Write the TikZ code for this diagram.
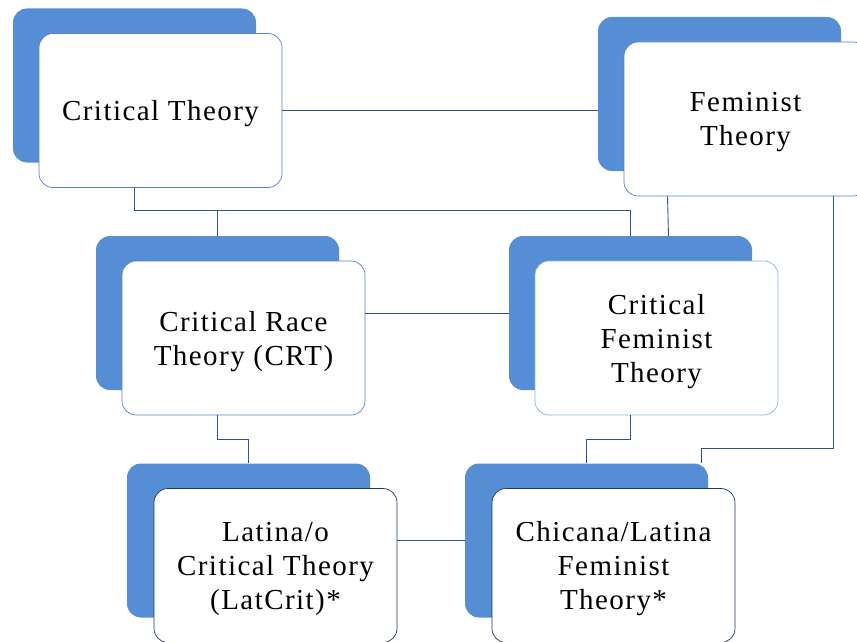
\documentclass[tikz,border=0pt]{standalone}
\usepackage{fontspec}
\setmainfont[LetterSpace=5]{Liberation Serif}
\usetikzlibrary{positioning}

\definecolor{backblue}{RGB}{85,142,213}
\definecolor{rimblue}{RGB}{84,130,205}
\definecolor{paleblue}{RGB}{141,179,226}
\definecolor{navy}{RGB}{31,56,100}
\definecolor{linkblue}{RGB}{47,82,143}

\tikzset{
  back/.style={fill=backblue, rounded corners=14pt, minimum width=243pt,
    minimum height=154pt, inner sep=0pt},
  front/.style={fill=white, draw=rimblue, line width=.7pt, rounded corners=14pt,
    minimum width=243pt, minimum height=154pt, inner sep=0pt, align=center,
    text depth=0pt, font=\fontsize{29}{34}\selectfont},
  link/.style={draw=linkblue, line width=.9pt}
}

\begin{document}
\begin{tikzpicture}[x=1pt,y=-1pt]
   \useasboundingbox (0,0) rectangle (857,642);
   % Critical Theory
   \node[back] (ct-b) at (134.5,85.5) {};
   \node[front] (ct) at ([shift={(26,25)}]ct-b) {Critical Theory};
   % Feminist Theory
   \node[back] (ft-b) at (719.5,94) {};
   \node[front] (ft) at ([shift={(26,25)}]ft-b) {Feminist\\Theory};
   % CRT
   \node[back] (crt-b) at (217.5,313) {};
   \node[front] (crt) at ([shift={(26,25)}]crt-b) {Critical Race\\Theory (CRT)};
   % Critical Feminist Theory
   \node[back] (cft-b) at (630.5,313) {};
   \node[front, draw=paleblue] (cft) at ([shift={(26,25)}]cft-b) {Critical\\Feminist\\Theory};
   % LatCrit
   \node[back] (lat-b) at (248.5,540.5) {};
   \node[front, draw=navy] (lat) at ([shift={(27,25)}]lat-b) {Latina/o\\Critical Theory\\(LatCrit)*};
   % Chicana/Latina
   \node[back] (chi-b) at (586.5,540.5) {};
   \node[front, draw=navy] (chi) at ([shift={(27,25)}]chi-b) {Chicana/Latina\\Feminist\\Theory*};

   % links
   \draw[link] (ct.east) -- (ct.east -| ft-b.west);
   \draw[link] (ct.south -| ct-b) -- ++(0,23) -| (cft-b.north);
   \draw[link] (ct.south -| ct-b) ++(0,23) -| (crt-b.north);
   \draw[link] ([xshift=-78pt]ft.south) -- ([xshift=38pt]cft-b.north);
   \draw[link] ([xshift=88pt]ft.south) -- ++(0,252) -| ([xshift=115pt]chi-b.north);
   \draw[link] (crt.east |- cft-b) -- (cft-b.west);
   \draw[link] (crt.south -| crt-b) -- ++(0,24) -| (lat-b.north);
   \draw[link] (cft.south -| cft-b) -- ++(0,24) -| (chi-b.north);
   \draw[link] (lat.east |- chi-b) -- (chi-b.west);
\end{tikzpicture}
\end{document}
